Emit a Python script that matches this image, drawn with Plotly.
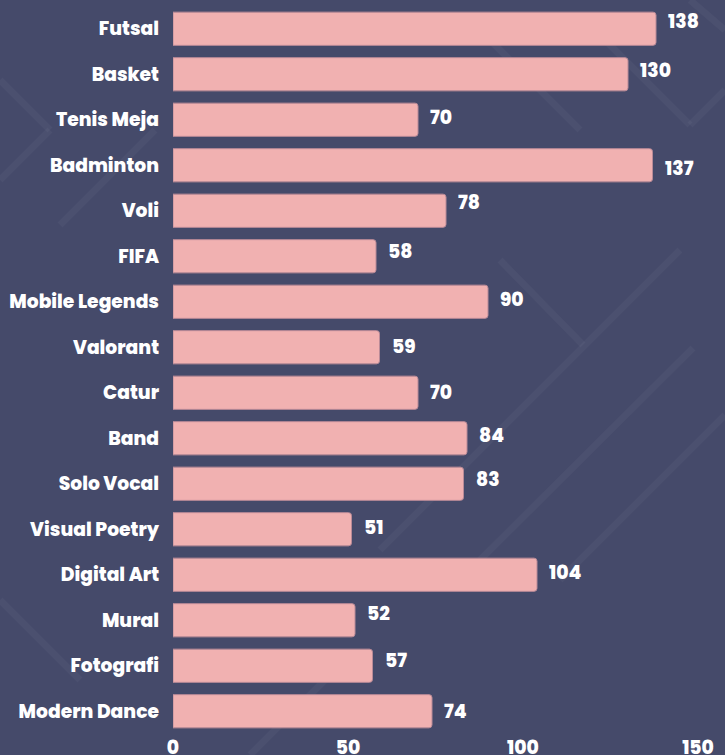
import plotly.graph_objects as go

categories = [
    "Futsal", "Basket", "Tenis Meja", "Badminton", "Voli", "FIFA",
    "Mobile Legends", "Valorant", "Catur", "Band", "Solo Vocal",
    "Visual Poetry", "Digital Art", "Mural", "Fotografi", "Modern Dance",
]
counts = [138, 130, 70, 137, 78, 58, 90, 59, 70, 84, 83, 51, 104, 52, 57, 74]
x_ticks = [0, 50, 100, 150]

W, H = 725, 755
ML, MR, MT, MB = 173, 27, 6, 21
BG = "#454a6a"
BAR = "#f1b1b1"
FONT = "Poppins, Inter, Roboto, sans-serif"
LABEL_FONT = dict(family=FONT, size=18.7, color="white", weight=800)

# the value labels in the original sit a little off-centre, by hand
label_nudge = [7, 4, 2, -3, 8, 5, 2, 1, 0, 3, 4, 2, 2, 7, 5, 0]


def px_to_paper(x, y):
    return (x - ML) / (W - ML - MR), (H - MB - y) / (H - MT - MB)


fig = go.Figure(
    go.Bar(
        x=counts,
        y=categories,
        orientation="h",
        marker=dict(color=BAR, line=dict(color="#b98a97", width=1), cornerradius=3),
        hoverinfo="x+y",
    )
)

for value, name, nudge in zip(counts, categories, label_nudge):
    fig.add_annotation(
        x=value, y=name, text=str(value), showarrow=False,
        xanchor="left", xshift=10, yshift=nudge, font=LABEL_FONT,
    )

# faint decorative diagonals in the background (pixel coords)
deco = [
    (0, 80, 50, 130), (50, 130, 0, 180), (155, 130, 60, 225),
    (480, 30, 580, 130), (600, 35, 690, 125), (690, 125, 725, 90),
    (690, 0, 725, 30), (500, 260, 583, 345), (680, 250, 380, 550),
    (693, 348, 480, 560), (725, 415, 560, 580), (0, 600, 80, 680),
    (250, 755, 330, 675),
]
for x0, y0, x1, y1 in deco:
    a0, b0 = px_to_paper(x0, y0)
    a1, b1 = px_to_paper(x1, y1)
    fig.add_shape(type="line", xref="paper", yref="paper", x0=a0, y0=b0, x1=a1, y1=b1,
                  line=dict(color="rgba(255,255,255,0.035)", width=7), layer="below")

fig.update_layout(
    width=W,
    height=H,
    paper_bgcolor=BG,
    plot_bgcolor=BG,
    margin=dict(l=ML, r=MR, t=MT, b=MB),
    bargap=0.27,
    showlegend=False,
    font=dict(family=FONT, color="white"),
)
fig.update_xaxes(
    range=[0, 150],
    tickvals=x_ticks,
    showgrid=False,
    zeroline=False,
    showline=False,
    automargin=False,
    ticklabelstandoff=0,
    tickfont=LABEL_FONT,
)
fig.update_yaxes(
    autorange="reversed",
    showgrid=False,
    automargin=False,
    ticklabelstandoff=13,
    tickfont=LABEL_FONT,
)

fig.write_html(
    "out.html",
    config={"displayModeBar": False},
    post_script="document.body.style.margin='0';",
)
